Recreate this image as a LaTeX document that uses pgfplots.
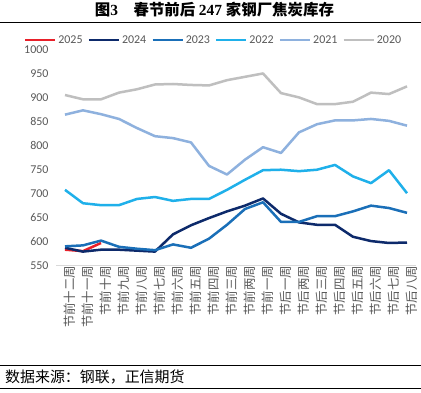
\documentclass[border=0pt]{standalone}
\usepackage{fontspec}
\setmainfont{Carlito}
\newfontfamily\cjk{Noto Sans CJK SC}
\newfontfamily\serifb{Liberation Serif}
\usepackage{pgfplots}
\pgfplotsset{compat=1.18}
\definecolor{c25}{HTML}{E8202A}
\definecolor{c24}{HTML}{0D2A6B}
\definecolor{c23}{HTML}{1A6FB8}
\definecolor{c22}{HTML}{1FB0EA}
\definecolor{c21}{HTML}{8EB1DE}
\definecolor{c20}{HTML}{BFBFBF}
\definecolor{txt}{HTML}{595959}
\begin{document}
\begin{tikzpicture}
\useasboundingbox (0,0) rectangle (421bp,393bp);
\fill[white] (0,0) rectangle (421bp,393bp);
\node[font=\fontsize{15.5}{16}\selectfont\bfseries] at (214.5bp,383bp) {\cjk 图\serifb 3\quad\cjk 春节前后 \serifb 247 \cjk 家钢厂焦炭库存};
\draw[line width=1bp] (0,370.3bp) -- (421bp,370.3bp);
\draw[line width=1bp] (0,27bp) -- (421bp,27bp);
\draw[line width=1bp] (0,4.5bp) -- (421bp,4.5bp);
\node[anchor=west, font=\cjk\fontsize{15}{15}\selectfont, inner sep=0pt] at (5bp,16bp) {数据来源：钢联，正信期货};
\begin{axis}[
  at={(56bp,127.5bp)}, anchor=south west,
  scale only axis, width=360bp, height=215.5bp,
  xmin=-0.5, xmax=19.5, ymin=550, ymax=1000,
  axis x line*=bottom, axis y line*=left,
  y axis line style={draw=none},
  x axis line style={draw=black!15, line width=0.8bp},
  major tick length=0pt,
  ytick={550,600,...,1000},
  xtick={0,...,19},
  xticklabels={节前十二周,节前十一周,节前十周,节前九周,节前八周,节前七周,节前六周,节前五周,节前四周,节前三周,节前两周,节前一周,节后一周,节后两周,节后三周,节后四周,节后五周,节后六周,节后七周,节后八周},
  xticklabel style={rotate=90, anchor=east, font=\cjk\fontsize{12.5}{12.5}\selectfont, text=txt, yshift=-5bp, inner sep=0pt},
  yticklabel style={font=\fontsize{12}{12}\selectfont, text=txt, xshift=-4bp},
  /pgf/number format/assume math mode=true,
  /pgf/number format/1000 sep={},
  legend style={at={(0.4375,1.046)}, anchor=center, draw=none, fill=none,
    font=\fontsize{12}{12}\selectfont, text=txt, inner sep=0pt,
    /tikz/every even column/.append style={column sep=3bp}},
  legend columns=-1,
  legend image code/.code={\draw[#1, line width=2.5bp] (0bp,0bp) -- (30bp,0bp);},
  every axis plot/.append style={line width=2.5bp, no markers, line join=round},
]
\addplot[c25] coordinates {(0,583) (1,580) (2,597)};
\addlegendentry{2025}
\addplot[c24] coordinates {(0,587) (1,579) (2,583) (3,583) (4,581) (5,579) (6,615) (7,634) (8,649) (9,663) (10,675) (11,690) (12,658) (13,640) (14,635) (15,635) (16,610) (17,601) (18,597) (19,598)};
\addlegendentry{2024}
\addplot[c23] coordinates {(0,590) (1,592) (2,602) (3,589) (4,585) (5,582) (6,594) (7,587) (8,606) (9,635) (10,668) (11,682) (12,641) (13,641) (14,653) (15,653) (16,663) (17,675) (18,670) (19,660)};
\addlegendentry{2023}
\addplot[c22] coordinates {(0,708) (1,680) (2,676) (3,676) (4,689) (5,693) (6,685) (7,689) (8,689) (9,708) (10,729) (11,749) (12,750) (13,747) (14,750) (15,760) (16,736) (17,722) (18,749) (19,701)};
\addlegendentry{2022}
\addplot[c21] coordinates {(0,865) (1,874) (2,866) (3,856) (4,837) (5,820) (6,816) (7,807) (8,758) (9,740) (10,771) (11,797) (12,785) (13,828) (14,845) (15,853) (16,853) (17,856) (18,852) (19,842)};
\addlegendentry{2021}
\addplot[c20] coordinates {(0,906) (1,897) (2,897) (3,911) (4,918) (5,928) (6,929) (7,927) (8,926) (9,937) (10,944) (11,951) (12,910) (13,901) (14,887) (15,887) (16,892) (17,911) (18,908) (19,924)};
\addlegendentry{2020}
\end{axis}
\end{tikzpicture}
\end{document}
